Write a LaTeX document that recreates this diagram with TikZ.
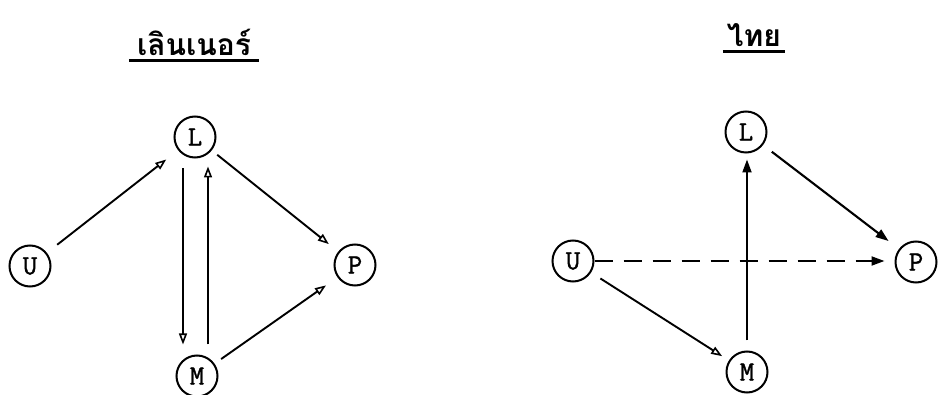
\documentclass[tikz,border=0pt]{standalone}
\usepackage{fontspec}
\newfontfamily\thaifont[Script=Thai]{Loma}
\newfontfamily\typefont[FakeBold=1.2]{Latin Modern Mono}
\usetikzlibrary{arrows.meta}
\begin{document}
\begin{tikzpicture}[x=1pt,y=-1pt,
  vnode/.style={draw,circle,line width=2pt,minimum size=41pt,inner sep=0pt,font=\fontsize{28}{28}\typefont},
  arr/.style={line width=1.9pt,-{Triangle[open,length=11pt,width=8pt,line width=1.6pt]}},
  farr/.style={line width=1.9pt,-{Triangle[length=13pt,width=9pt]}},
  title/.style={font=\fontsize{30}{30}\thaifont\bfseries,anchor=south,inner xsep=8pt,inner ysep=5pt},
  uline/.style={line width=3pt}]
\path[use as bounding box,fill=white] (0,0) rectangle (938,395);
% titles
\node[title] (t1) at (194,61) {เลินเนอร์};
\draw[uline] (t1.south west) -- (t1.south east);
\node[title,inner xsep=4pt] (t2) at (754,52) {ไทย};
\draw[uline] (t2.south west) -- (t2.south east);
% left diagram
\node[vnode] (L1) at (195,137) {L};
\node[vnode] (U1) at (30,266) {U};
\node[vnode] (P1) at (355,265) {P};
\node[vnode] (M1) at (197,376) {M};
\draw[arr,shorten <=13pt,shorten >=15pt] (U1) -- (L1);
\draw[arr,shorten <=7pt,shorten >=12pt] (L1) -- (P1);
\draw[arr,shorten <=8pt,shorten >=14pt] (M1) -- (P1);
\draw[arr,shorten <=10pt,shorten >=10pt] ([xshift=-12pt]L1.south) -- ([xshift=-12pt]L1.south |- M1.north);
\draw[arr,shorten <=10pt,shorten >=8pt] ([xshift=13pt]L1.south |- M1.north) -- ([xshift=13pt]L1.south);
% right diagram
\node[vnode] (L2) at (746,132) {L};
\node[vnode] (U2) at (573,261) {U};
\node[vnode] (P2) at (916,262) {P};
\node[vnode] (M2) at (747,372) {M};
\draw[farr,shorten <=10pt,shorten >=6pt] (M2.north) -- (M2.north |- L2.south);
\draw[farr,line width=2.1pt,shorten <=11pt,shorten >=13pt] (L2) -- (P2);
\draw[farr,dash pattern=on 18pt off 11pt,shorten >=10pt] (U2.east) -- (U2.east -| P2.west);
\draw[arr,shorten <=11pt,shorten >=8pt] (U2) -- (M2);
\end{tikzpicture}
\end{document}
